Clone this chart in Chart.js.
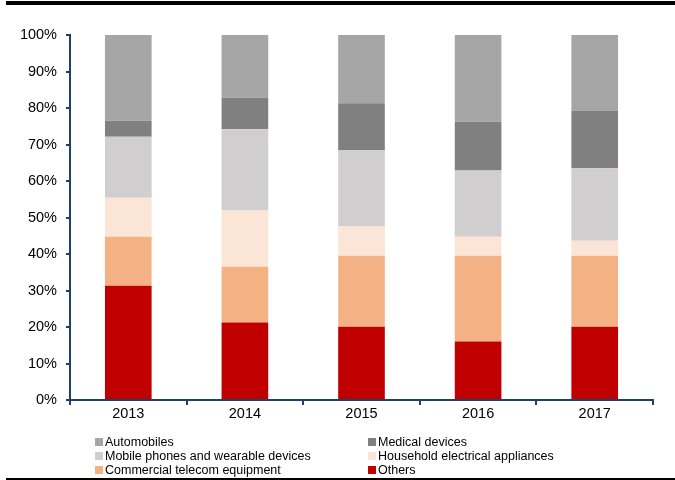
<!DOCTYPE html>
<html>
<head>
<meta charset="utf-8">
<script src="https://cdn.jsdelivr.net/npm/chart.js@4/dist/chart.umd.min.js"></script>
<style>
  html, body { margin: 0; padding: 0; background: #fff; }
  #wrap { position: relative; width: 675px; height: 480px; overflow: hidden; font-family: 'Liberation Sans', Arial, sans-serif; }
  #topRule { position: absolute; left: 6px; right: 0; top: 1px; height: 4px; background: #000; }
  #bottomRule { position: absolute; left: 6px; right: 0; top: 478px; height: 2px; background: #000; }
  #legend { position: absolute; left: 95px; top: 435px; display: grid; grid-template-columns: 273px 260px; row-gap: 0; }
  .item { display: flex; align-items: center; height: 14px; font-size: 12.5px; color: #000; white-space: nowrap; }
  .box { width: 8px; height: 8px; margin-right: 2px; flex: none; }
</style>
</head>
<body>
<div id="wrap">
  <canvas id="mixChart" width="675" height="480"></canvas>
  <div id="topRule"></div>
  <div id="bottomRule"></div>
  <div id="legend"></div>
</div>
<script>
const years = ['2013', '2014', '2015', '2016', '2017'];

// share of each application, % (stacked bottom to top)
const others      = [31.3, 21.2, 20.1, 16.0, 20.1];
const commercial  = [13.4, 15.3, 19.4, 23.5, 19.4];
const household   = [10.7, 15.4,  8.2,  5.2,  4.1];
const mobile      = [16.7, 22.3, 20.8, 18.2, 19.9];
const medical     = [ 4.4,  8.6, 12.8, 13.3, 15.8];
const automobiles = [23.5, 17.2, 18.7, 23.8, 20.7];

const yTicks = [0, 10, 20, 30, 40, 50, 60, 70, 80, 90, 100];

const series = [
    { label: 'Others', data: others, color: '#c00000' },
    { label: 'Commercial telecom equipment', data: commercial, color: '#f4b183' },
    { label: 'Household electrical appliances', data: household, color: '#fbe5d6' },
    { label: 'Mobile phones and wearable devices', data: mobile, color: '#d0cece' },
    { label: 'Medical devices', data: medical, color: '#808080' },
    { label: 'Automobiles', data: automobiles, color: '#a6a6a6' }
];

// legend reads row by row: left column then right column
const legendOrder = ['Automobiles', 'Medical devices', 'Mobile phones and wearable devices',
    'Household electrical appliances', 'Commercial telecom equipment', 'Others'];

const axisColor = '#1f3f6e';
const tickFont = { family: "'Liberation Sans', Arial, sans-serif", size: 14.5 };

const ctx = document.getElementById('mixChart').getContext('2d');
new Chart(ctx, {
    type: 'bar',
    data: {
        labels: years,
        datasets: series.map(s => ({
            label: s.label,
            data: s.data,
            backgroundColor: s.color,
            borderWidth: 0,
            barPercentage: 0.4,
            categoryPercentage: 1
        }))
    },
    options: {
        responsive: false,
        animation: false,
        layout: { padding: { left: 0, right: 22, top: 35, bottom: 0 } },
        plugins: { legend: { display: false }, tooltip: { enabled: false } },
        scales: {
            x: {
                stacked: true,
                grid: { drawOnChartArea: false, drawTicks: true, tickLength: 5, color: axisColor, lineWidth: 2, offset: true },
                border: { color: axisColor, width: 2 },
                ticks: { color: '#000', font: tickFont, padding: 0 },
                afterFit: s => { s.height = 80; }
            },
            y: {
                stacked: true,
                min: 0,
                max: 100,
                afterBuildTicks: s => { s.ticks = yTicks.map(v => ({ value: v })); },
                grid: { drawOnChartArea: false, drawTicks: true, tickLength: 4, color: axisColor, lineWidth: 2 },
                border: { color: axisColor, width: 2 },
                ticks: { color: '#000', font: tickFont, padding: 9, callback: v => v + '%' },
                afterFit: s => { s.width = 70; }
            }
        }
    }
});

// two-column legend under the plot
const legendEl = document.getElementById('legend');
legendOrder.forEach(name => {
    const s = series.find(x => x.label === name);
    const item = document.createElement('div');
    item.className = 'item';
    item.innerHTML = `<span class="box" style="background:${s.color}"></span><span>${s.label}</span>`;
    legendEl.appendChild(item);
});
</script>
</body>
</html>
